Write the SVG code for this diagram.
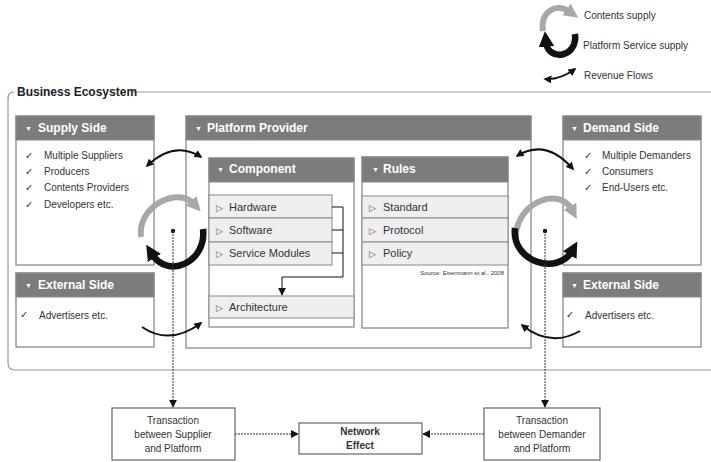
<svg xmlns="http://www.w3.org/2000/svg" width="711" height="462" viewBox="0 0 711 462">
<style>
text{font-family:"Liberation Sans",Arial,sans-serif;}
.box{fill:#fff;stroke:#8a8a8a;stroke-width:1.3;}
.hdr{fill:#7c7c7c;stroke:#8a8a8a;stroke-width:1;}
.ht{fill:#fff;font-size:12px;font-weight:bold;}
.tri{fill:#fff;font-size:7px;}
.li{fill:#333;font-size:10px;}
.ck{fill:#333;font-size:10px;}
.row{fill:#efefef;stroke:#8a8a8a;stroke-width:1;}
.rt{fill:#333;font-size:11px;}
.rtri{fill:#555;font-size:9px;}
.bx{fill:#fff;stroke:#666;stroke-width:1.2;}
.bt{fill:#333;font-size:10px;text-anchor:middle;}
.dot{fill:none;stroke:#333;stroke-width:1;stroke-dasharray:2,1;}
.rev{fill:none;stroke:#111;stroke-width:2;}
.gray{fill:none;stroke:#a8a8a8;stroke-width:6;}
.blk{fill:none;stroke:#111;stroke-width:6.5;}
.frame{fill:none;stroke:#999;stroke-width:1.2;}
</style>
<defs>
<marker id="ah" viewBox="0 0 10 10" refX="8" refY="5" markerWidth="4" markerHeight="4" orient="auto-start-reverse" markerUnits="strokeWidth"><path d="M0,0 L10,5 L0,10 z" fill="#111"/></marker>
<marker id="dh" viewBox="0 0 10 10" refX="9" refY="5" markerWidth="8" markerHeight="8" orient="auto" markerUnits="userSpaceOnUse"><path d="M0,0 L10,5 L0,10 z" fill="#111"/></marker>
<marker id="gh" viewBox="0 0 10 10" refX="3" refY="5" markerWidth="2.4" markerHeight="2.6" orient="auto" markerUnits="strokeWidth"><path d="M0,0 L10,5 L0,10 z" fill="#a8a8a8"/></marker>
<marker id="bh" viewBox="0 0 10 10" refX="3" refY="5" markerWidth="2.4" markerHeight="2.6" orient="auto" markerUnits="strokeWidth"><path d="M0,0 L10,5 L0,10 z" fill="#111"/></marker>
</defs>

<!-- Legend -->
<g id="legend">
<path class="gray" d="M543,31 C540,12 556,2 570,12" stroke-width="4" marker-end="url(#gh)"/>
<text x="584" y="19" class="li" fill="#222">Contents  supply</text>
<path class="blk" d="M575,34 C578,58 548,62 546,42" stroke-width="4.5" marker-end="url(#bh)"/>
<text x="583" y="49" class="li" fill="#222">Platform Service supply</text>
<path class="rev" d="M545,79 Q560,80 575,69" stroke-width="1.6" marker-start="url(#ah)" marker-end="url(#ah)"/>
<text x="584" y="79" class="li" fill="#222">Revenue Flows</text>
</g>

<!-- Business Ecosystem frame -->
<g id="ecosystem">
<path class="frame" d="M14,92 Q8,92 8,99 L8,363 Q8,370 15,370 L711,370"/>
<line class="frame" x1="133" y1="92" x2="711" y2="92"/>
<text x="17" y="96" font-size="12" font-weight="bold" fill="#222">Business Ecosystem</text>
</g>

<!-- Supply Side -->
<g id="supply-side">
<rect class="box" x="16" y="116" width="138" height="149"/>
<rect class="hdr" x="16" y="116" width="138" height="24"/>
<text x="25" y="131" class="tri">▼</text>
<text x="38" y="132" class="ht">Supply Side</text>
<text x="25" y="159" class="ck">✓</text><text x="44" y="159" class="li">Multiple Suppliers</text>
<text x="25" y="175" class="ck">✓</text><text x="44" y="175" class="li">Producers</text>
<text x="25" y="191" class="ck">✓</text><text x="44" y="191" class="li">Contents Providers</text>
<text x="25" y="208" class="ck">✓</text><text x="44" y="208" class="li">Developers etc.</text>
</g>

<!-- External Side left -->
<g id="external-left">
<rect class="box" x="16" y="273" width="138" height="74"/>
<rect class="hdr" x="16" y="273" width="138" height="24"/>
<text x="25" y="288" class="tri">▼</text>
<text x="38" y="289" class="ht">External Side</text>
<text x="20" y="318" class="ck">✓</text><text x="39" y="319" class="li">Advertisers etc.</text>
</g>

<!-- Platform Provider -->
<g id="platform-provider">
<rect class="box" x="186" y="116" width="345" height="232"/>
<rect class="hdr" x="186" y="116" width="345" height="24"/>
<text x="195" y="131" class="tri">▼</text>
<text x="207" y="132" class="ht">Platform Provider</text>
</g>

<!-- Component -->
<g id="component">
<rect class="box" x="209" y="158" width="145" height="169"/>
<rect class="hdr" x="209" y="158" width="145" height="24"/>
<text x="217" y="172" class="tri">▼</text>
<text x="229" y="173" class="ht" font-size="11">Component</text>
<rect class="row" x="209" y="195" width="123" height="23"/>
<text x="216" y="211" class="rtri">▷</text><text x="229" y="211" class="rt">Hardware</text>
<rect class="row" x="209" y="218" width="123" height="24"/>
<text x="216" y="234" class="rtri">▷</text><text x="229" y="234" class="rt">Software</text>
<rect class="row" x="209" y="242" width="123" height="23"/>
<text x="216" y="257" class="rtri">▷</text><text x="229" y="257" class="rt">Service Modules</text>
<rect class="row" x="209" y="296" width="145" height="22"/>
<text x="216" y="311" class="rtri">▷</text><text x="229" y="311" class="rt">Architecture</text>
</g>

<!-- Rules -->
<g id="rules">
<rect class="box" x="362" y="157" width="146" height="171"/>
<rect class="hdr" x="362" y="157" width="146" height="25"/>
<text x="372" y="172" class="tri">▼</text>
<text x="383" y="173" class="ht" font-size="11">Rules</text>
<rect class="row" x="362" y="196" width="146" height="22"/>
<text x="369" y="211" class="rtri">▷</text><text x="383" y="211" class="rt">Standard</text>
<rect class="row" x="362" y="218" width="146" height="24"/>
<text x="369" y="234" class="rtri">▷</text><text x="383" y="234" class="rt">Protocol</text>
<rect class="row" x="362" y="242" width="146" height="23"/>
<text x="369" y="257" class="rtri">▷</text><text x="383" y="257" class="rt">Policy</text>
<text x="504" y="275" font-size="6" fill="#333" text-anchor="end">Source:  Eisenmann et al., 2008</text>
</g>

<!-- Demand Side -->
<g id="demand-side">
<rect class="box" x="563" y="116" width="138" height="149"/>
<rect class="hdr" x="563" y="116" width="138" height="24"/>
<text x="571" y="131" class="tri">▼</text>
<text x="583" y="132" class="ht">Demand Side</text>
<text x="584" y="159" class="ck">✓</text><text x="602" y="159" class="li">Multiple  Demanders</text>
<text x="584" y="175" class="ck">✓</text><text x="602" y="175" class="li">Consumers</text>
<text x="584" y="191" class="ck">✓</text><text x="602" y="191" class="li">End-Users etc.</text>
</g>

<!-- External Side right -->
<g id="external-right">
<rect class="box" x="563" y="273" width="138" height="74"/>
<rect class="hdr" x="563" y="273" width="138" height="24"/>
<text x="571" y="288" class="tri">▼</text>
<text x="583" y="289" class="ht">External Side</text>
<text x="566" y="318" class="ck">✓</text><text x="585" y="319" class="li">Advertisers etc.</text>
</g>

<!-- Bottom boxes -->
<g id="tx-supplier">
<rect class="bx" x="112" y="408" width="123" height="52"/>
<text x="173" y="424" class="bt">Transaction</text>
<text x="173" y="438" class="bt">between Supplier</text>
<text x="173" y="452" class="bt">and Platform</text>
</g>
<g id="network-effect">
<rect class="bx" x="299" y="423" width="123" height="31"/>
<text x="360" y="435" class="bt" font-weight="bold" fill="#111">Network</text>
<text x="360" y="449" class="bt" font-weight="bold" fill="#111">Effect</text>
</g>
<g id="tx-demander">
<rect class="bx" x="484" y="408" width="116" height="52"/>
<text x="542" y="424" class="bt">Transaction</text>
<text x="542" y="438" class="bt">between Demander</text>
<text x="542" y="452" class="bt">and Platform</text>
</g>

<!-- Connectors -->
<g id="connectors">
<!-- component internal -->
<path d="M332,207 H343 M332,230 H343 M332,253 H343" stroke="#111" stroke-width="1" fill="none"/>
<path d="M343,207 V277 H282 V295" stroke="#111" stroke-width="1" fill="none" marker-end="url(#dh)"/>

<!-- contents supply (gray) -->
<path class="gray" d="M141,237 C137,206 178,186 194,204"  marker-end="url(#gh)"/>
<path class="gray" d="M516,242 C512,205 558,184 572,210" marker-end="url(#gh)"/>
<!-- platform service supply (black) -->
<path class="blk" d="M203,229 C207,262 168,280 152,254" marker-end="url(#bh)"/>
<path class="blk" d="M515,228 C511,262 558,276 572,251" marker-end="url(#bh)"/>

<!-- revenue flows -->
<path class="rev" d="M147,166 Q174,140 201,157" marker-start="url(#ah)" marker-end="url(#ah)"/>
<path class="rev" d="M142,327 Q170,346 201,323" marker-end="url(#ah)"/>
<path class="rev" d="M517,156 Q546,138 573,169" marker-start="url(#ah)" marker-end="url(#ah)"/>
<path class="rev" d="M580,331 Q550,348 522,325" marker-end="url(#ah)"/>

<!-- dotted transaction lines -->
<circle cx="173" cy="231" r="2.2" fill="#111"/>
<circle cx="545" cy="231" r="2.2" fill="#111"/>
<path class="dot" d="M173,231 V407" marker-end="url(#dh)"/>
<path class="dot" d="M545,231 V407" marker-end="url(#dh)"/>
<path class="dot" d="M235,434 H298" marker-end="url(#dh)"/>
<path class="dot" d="M484,434 H423" marker-end="url(#dh)"/>
</g>
</svg>
